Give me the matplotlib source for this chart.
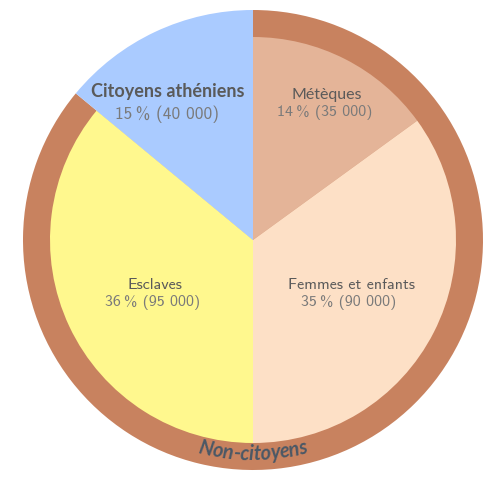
import matplotlib
matplotlib.use("Agg")

import matplotlib.pyplot as plt
from matplotlib.font_manager import FontProperties
from matplotlib.textpath import text_to_path
import numpy as np

# Data (clockwise from the top)
groups = ["Métèques", "Femmes et enfants", "Esclaves", "Citoyens athéniens"]
shares = [15, 35, 36, 14]          # wedge sizes as drawn
pct_labels = ["14\u2009%", "35\u2009%", "36\u2009%", "15\u2009%"]
counts = ["35 000", "90 000", "95 000", "40 000"]
ring_label = "Non-citoyens"

colors = ["#e4b498", "#fde0c6", "#fff88e", "#aacbff"]
ring_color = "#c8825f"
name_color = "#5a5a5a"
num_color = "#7a7a7a"

W, H, DPI = 494, 480, 100
cx, cy = 253, 240
R_out, R_in = 230, 203

fig = plt.figure(figsize=(W / DPI, H / DPI), dpi=DPI)
ax = fig.add_axes([0, 0, 1, 1])

# Outer ring: non-citizens vs citizens
ring_vals = [sum(shares[:3]), shares[3]]
ax.pie(ring_vals, colors=[ring_color, colors[3]], startangle=90, counterclock=False,
       radius=R_out, center=(cx, cy), wedgeprops=dict(linewidth=0), frame=True)

# Inner pie
ax.pie(shares, colors=colors, startangle=90, counterclock=False,
       radius=R_in, center=(cx, cy), wedgeprops=dict(linewidth=0), frame=True)
ax.set_xlim(0, W)
ax.set_ylim(0, H)
ax.set_aspect("equal")
ax.axis("off")

# Labels (positions in pixels from the top-left)
label_pos = [(327, 95), (351, 285), (155, 285), (168, 92)]
fam = ["cmss10", "DejaVu Sans"]
for i, (x, y) in enumerate(label_pos):
    if i == 3:
        ax.text(x, H - y, groups[i], ha="center", va="center", fontsize=13,
                fontweight="bold", family=["Lato"], color=name_color)
        ax.text(x - 1, H - y - 22, f"{pct_labels[i]} ({counts[i]})", ha="center",
                va="center", fontsize=12.5, family=fam, color=num_color)
    else:
        # cmss10 has no accented letters, so use Lato there
        name_fam = ["Lato"] if any(ord(c) > 127 for c in groups[i]) else fam
        ax.text(x, H - y, groups[i], ha="center", va="center", fontsize=11.5,
                family=name_fam, color=name_color)
        ax.text(x - 2, H - y - 18, f"{pct_labels[i]} ({counts[i]})", ha="center",
                va="center", fontsize=11.5, family=fam, color=num_color)

# Curved ring label along the bottom of the ring
fp = FontProperties(family="Lato", style="italic", weight="bold", size=14.3)
scale = DPI / 72.0

def text_w(s):
    if not s:
        return 0.0
    w, h, d = text_to_path.get_text_width_height_descent(s, fp, ismath=False)
    return w * scale

r_base = 220
total = text_w(ring_label)
start = -total / 2
for i, ch in enumerate(ring_label):
    c = start + (text_w(ring_label[:i]) + text_w(ring_label[:i + 1])) / 2
    phi = 270 + np.degrees(c / r_base)
    t = np.radians(phi)
    ax.text(cx + r_base * np.cos(t), cy + r_base * np.sin(t), ch, fontproperties=fp,
            rotation=phi - 270, rotation_mode="anchor", ha="center", va="baseline",
            color="#4b5866")

fig.savefig("out.png", dpi=DPI)
plt.close(fig)
